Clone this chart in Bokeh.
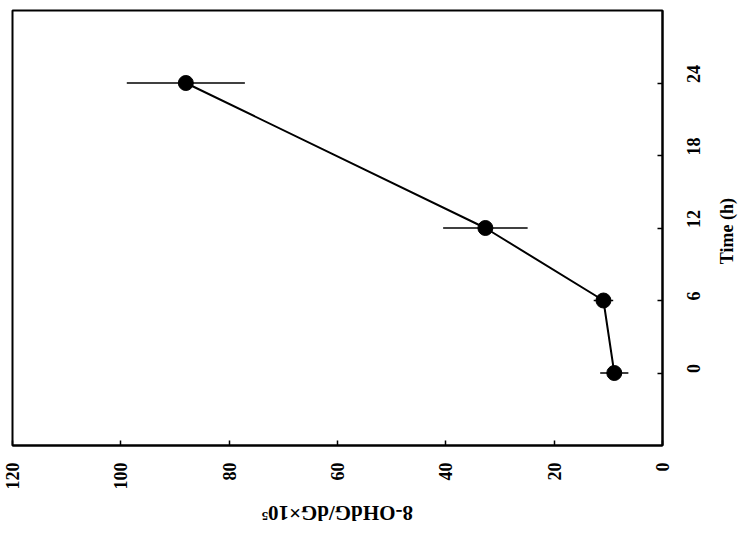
import math
from bokeh.plotting import figure
from bokeh.models import Range1d, FixedTicker, LinearAxis, ColumnDataSource
from bokeh.embed import file_html
from bokeh.resources import INLINE

# Data read from the (rotated) chart
time_h = [0, 6, 12, 24]
ohdg = [8.9, 10.9, 32.7, 88.0]
err = [2.6, 1.8, 7.8, 10.9]

x_ticks = [0, 20, 40, 60, 80, 100, 120]
y_ticks = [0, 6, 12, 18, 24]
x_title = "8-OHdG/dG×10⁵"
y_title = "Time (h)"

FONT = "Liberation Serif"

p = figure(width=750, height=539, output_backend="svg", toolbar_location=None,
           x_range=Range1d(120, 0), y_range=Range1d(-6, 30),
           x_axis_location=None, y_axis_location=None,
           min_border_left=12, min_border_right=88, min_border_top=10, min_border_bottom=94)
p.grid.visible = False
p.outline_line_color = "black"
p.outline_line_width = 2
p.background_fill_color = "white"
p.border_fill_color = "white"

xa = LinearAxis(ticker=FixedTicker(ticks=x_ticks))
ya = LinearAxis(ticker=FixedTicker(ticks=y_ticks))
for ax in (xa, ya):
    ax.major_tick_in = 5
    ax.major_tick_out = 0
    ax.minor_tick_line_color = None
    ax.axis_line_width = 2
    ax.major_tick_line_width = 1.5
    ax.major_label_text_font = FONT
    ax.major_label_text_font_style = "bold"
    ax.major_label_text_font_size = "18px"
    ax.major_label_text_color = "black"
    ax.major_label_orientation = math.pi / 2
xa.major_label_standoff = 17
ya.major_label_standoff = 31
p.add_layout(xa, "below")
p.add_layout(ya, "right")

# Axis titles drawn as rotated single labels on title-only axes
xt = LinearAxis(ticker=FixedTicker(ticks=[74]), major_label_overrides={74: x_title})
yt = LinearAxis(ticker=FixedTicker(ticks=[9]), major_label_overrides={9: y_title})
for ax in (xt, yt):
    ax.axis_line_color = None
    ax.major_tick_line_color = None
    ax.minor_tick_line_color = None
    ax.major_label_text_font = FONT
    ax.major_label_text_font_style = "bold"
    ax.major_label_text_color = "black"
xt.major_label_text_font_size = "21px"
yt.major_label_text_font_size = "18px"
xt.major_label_orientation = math.pi
yt.major_label_orientation = math.pi / 2
xt.major_label_standoff = 14
yt.major_label_standoff = 11
p.add_layout(xt, "below")
p.add_layout(yt, "right")

lo = [v - e for v, e in zip(ohdg, err)]
hi = [v + e for v, e in zip(ohdg, err)]
src = ColumnDataSource(dict(t=time_h, v=ohdg, lo=lo, hi=hi))
p.segment(x0="lo", x1="hi", y0="t", y1="t", source=src, line_color="black", line_width=1.5)
p.line(x="v", y="t", source=src, line_color="black", line_width=2)
p.scatter(x="v", y="t", source=src, size=15, fill_color="black", line_color="black")

open("out.html", "w").write(file_html(p, INLINE))
